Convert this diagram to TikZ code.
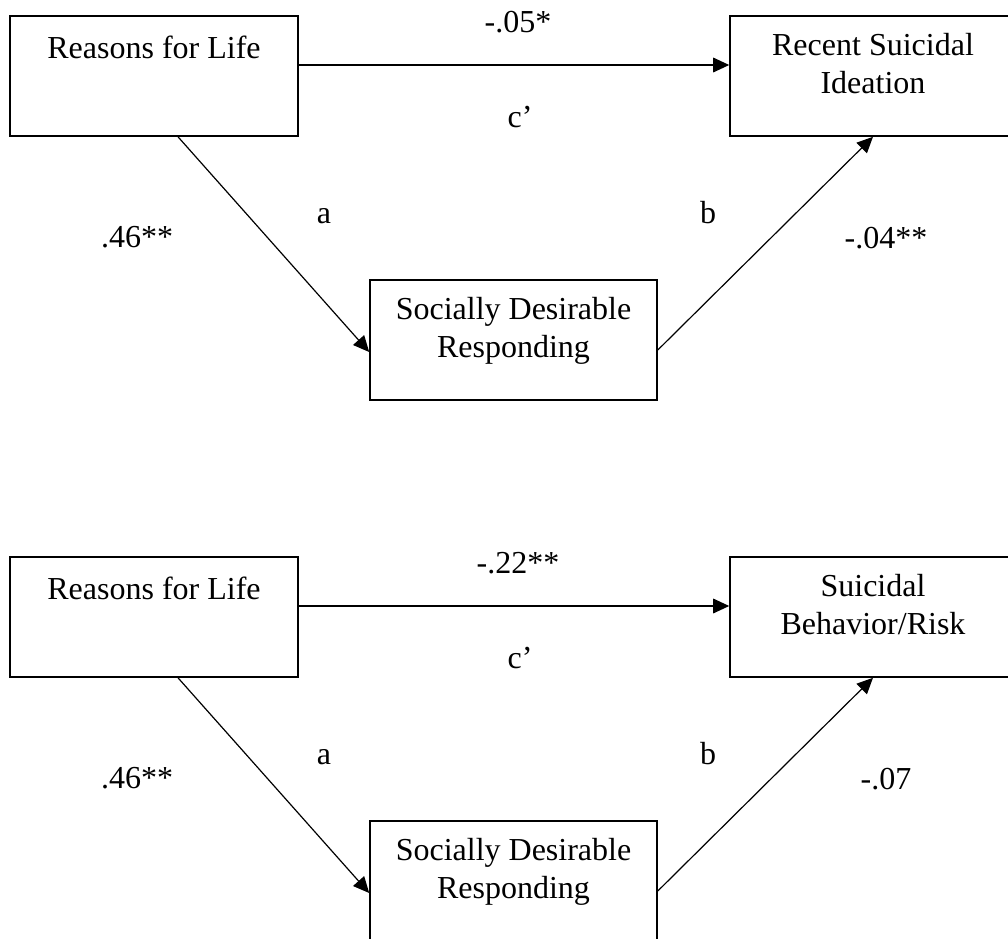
\documentclass[tikz,border=0pt]{standalone}
\usepackage{fontspec}
\setmainfont{Liberation Serif}
\usetikzlibrary{arrows.meta}
\begin{document}
\begin{tikzpicture}[x=0.75pt,y=-0.75pt,
  box/.style={draw, line width=1.2pt, minimum height=90pt, inner sep=0pt},
  txt/.style={anchor=base, inner sep=0pt, font=\fontsize{24}{28}\selectfont},
  conn/.style={line width=0.9pt, -{Triangle[length=12pt,width=11pt]}},
]
\useasboundingbox (0,0) rectangle (1008,939);
\clip (0,0) rectangle (1008,939);

% ---------- top diagram ----------
\node[box, minimum width=216pt] (L1) at (154,76) {};
\node[box, minimum width=214.5pt] (R1) at (873,76) {};
\node[box, minimum width=215.25pt] (M1) at (513.5,340) {};

\node[txt] (L1t) at (154,58) {Reasons for Life};
\node[txt] (R1t1) at (873,55) {Recent Suicidal};
\node[txt] (R1t2) at (873,93) {Ideation};
\node[txt] (M1t1) at (513.5,319) {Socially Desirable};
\node[txt] (M1t2) at (513.5,357) {Responding};

\draw[conn] ([yshift=8.25pt]L1.east) -- ([yshift=8.25pt]R1.west);
\draw[conn] ([xshift=18pt]L1.south) -- ([yshift=-9pt]M1.west);
\draw[conn] ([yshift=-7.5pt]M1.east) -- (R1.south);

\node[txt] (c1) at (518,32) {-.05*};
\node[txt] (cp1) at (520,127) {c’};
\node[txt] (a1) at (324,223) {a};
\node[txt] (b1) at (708,223) {b};
\node[txt] (p1) at (137,247) {.46**};
\node[txt] (q1) at (886,248) {-.04**};

% ---------- bottom diagram ----------
\node[box, minimum width=216pt] (L2) at (154,617) {};
\node[box, minimum width=214.5pt] (R2) at (873,617) {};
\node[box, minimum width=215.25pt] (M2) at (513.5,881) {};

\node[txt] (L2t) at (154,599) {Reasons for Life};
\node[txt] (R2t1) at (873,596) {Suicidal};
\node[txt] (R2t2) at (873,634) {Behavior/Risk};
\node[txt] (M2t1) at (513.5,860) {Socially Desirable};
\node[txt] (M2t2) at (513.5,898) {Responding};

\draw[conn] ([yshift=8.25pt]L2.east) -- ([yshift=8.25pt]R2.west);
\draw[conn] ([xshift=18pt]L2.south) -- ([yshift=-9pt]M2.west);
\draw[conn] ([yshift=-7.5pt]M2.east) -- (R2.south);

\node[txt] (c2) at (518,573) {-.22**};
\node[txt] (cp2) at (520,668) {c’};
\node[txt] (a2) at (324,764) {a};
\node[txt] (b2) at (708,764) {b};
\node[txt] (p2) at (137,788) {.46**};
\node[txt] (q2) at (886,789) {-.07};
\end{tikzpicture}
\end{document}
